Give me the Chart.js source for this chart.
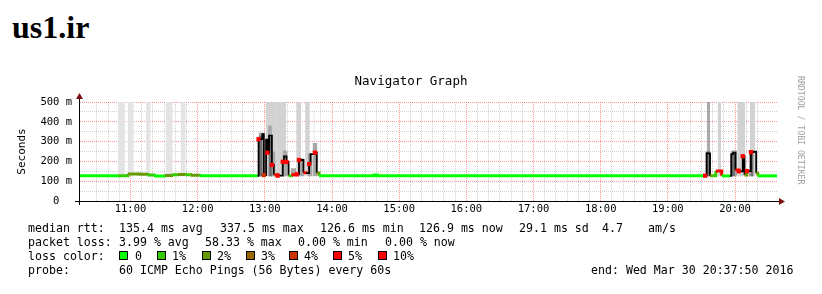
<!DOCTYPE html>
<html>
<head>
<meta charset="utf-8">
<script src="https://cdn.jsdelivr.net/npm/chart.js@4.4.1/dist/chart.umd.min.js"></script>
<style>
  body { margin: 0; background: #fff; }
  #page { position: relative; width: 822px; height: 294px; overflow: hidden; }
  #host { position: absolute; left: 12px; top: 11px; font: bold 32px/32px "Liberation Serif", serif; color: #000; }
  #chartBox { position: absolute; left: 0; top: 0; width: 822px; height: 230px; }
  #brand { position: absolute; left: 796px; top: 76px; writing-mode: vertical-rl; font: 8.2px "DejaVu Sans Mono", monospace; color: #a0a0a0; }
  .row { position: absolute; left: 0; width: 822px; height: 14px; font: 11.6px/14px "DejaVu Sans Mono", monospace; color: #000; white-space: pre; }
  .row span { position: absolute; top: 0; }
  .row i { position: absolute; top: 2px; width: 7px; height: 7px; border: 1px solid #000; }
</style>
</head>
<body>
<div id="page">
  <div id="host">us1.ir</div>
  <div id="chartBox"><canvas id="navGraph" width="822" height="230"></canvas></div>
  <div id="brand">RRDTOOL / TOBI OETIKER</div>

  <div class="row" style="top:221px">
    <span style="left:28px">median rtt:</span>
    <span style="left:119px">135.4 ms avg</span>
    <span style="left:220px">337.5 ms max</span>
    <span style="left:320px">126.6 ms min</span>
    <span style="left:419px">126.9 ms now</span>
    <span style="left:519px">29.1 ms sd</span>
    <span style="left:602px">4.7</span>
    <span style="left:648px">am/s</span>
  </div>
  <div class="row" style="top:235px">
    <span style="left:28px">packet loss:</span>
    <span style="left:119px">3.99 % avg</span>
    <span style="left:205px">58.33 % max</span>
    <span style="left:298px">0.00 % min</span>
    <span style="left:385px">0.00 % now</span>
  </div>
  <div class="row" style="top:249px">
    <span style="left:28px">loss color:</span>
    <i style="left:119px;background:#00ff00"></i><span style="left:135px">0</span>
    <i style="left:157px;background:#33cc00"></i><span style="left:172px">1%</span>
    <i style="left:202px;background:#669900"></i><span style="left:217px">2%</span>
    <i style="left:246px;background:#996600"></i><span style="left:261px">3%</span>
    <i style="left:289px;background:#cc3300"></i><span style="left:304px">4%</span>
    <i style="left:333px;background:#ff0000"></i><span style="left:348px">5%</span>
    <i style="left:378px;background:#ff0000"></i><span style="left:393px">10%</span>
  </div>
  <div class="row" style="top:263px">
    <span style="left:28px">probe:</span>
    <span style="left:119px">60 ICMP Echo Pings (56 Bytes) every 60s</span>
    <span style="left:591px">end: Wed Mar 30 20:37:50 2016</span>
  </div>
</div>

<script>
// time = minutes since midnight, median rtt in ms, loss in %
const times = [614, 649, 657.5, 668, 675, 681, 690.5, 696.7, 702, 709, 713.7, 721.7, 773.5,
  774.4, 777.7, 779.1, 781.1, 782.2, 783.8, 786.3, 788, 791.4, 796, 797.1, 799.4, 801.2, 803.8, 808.5,
  810.5, 814.5, 816.8, 819.6, 820.8, 824.8, 826.4, 828.4,
  877.8, 880.5,
  1173.3, 1174.6, 1177.7, 1179.9, 1182.8, 1188.1, 1195.5, 1196.6, 1198.3, 1200.4, 1203.4, 1206.9,
  1208.5, 1210.6, 1214.2, 1216.6, 1218.9, 1220.3, 1237.5];
const median = [127, 128, 136, 135, 131, 126, 129, 133, 134, 132, 130, 127, 127,
  312, 338, 131, 310, 244, 330, 182, 132, 128, 198, 225, 197, 127, 132, 135,
  207, 143, 141, 187, 237, 244, 141, 127,
  131, 127,
  128, 241, 128, 127, 151, 127, 127, 237, 244, 157, 150, 226,
  131, 151, 247, 249, 140, 127, 127];
const loss = [0, 1, 2, 2, 1, 0, 2, 1, 2, 1, 2, 0, 0,
  5, 0, 4, 0, 5, 0, 5, 4, 5, 5, 0, 5, 1, 5, 5,
  5, 5, 0, 5, 0, 5, 2, 0,
  0, 0,
  5, 0, 2, 1, 5, 0, 0, 0, 0, 5, 5, 5,
  2, 5, 5, 0, 2, 0, 0];

// smoke bands: [start, end, top ms]
const smokeCalm = [[648.7, 655, 500], [657.5, 662.9, 500], [673.6, 678, 500], [691.4, 697.7, 500], [704.8, 709.3, 500]];
const smokeLight = [[780.6, 790.7, 500], [790.7, 799.1, 500], [808, 812.5, 500], [816, 819.9, 500], [823.5, 824.4, 460],
  [1184.4, 1187.7, 500], [1202, 1209.1, 500], [1213.3, 1218.1, 500]];
const smokeMid = [[774.4, 779.7, 345], [782.7, 786.3, 380], [786.3, 789.5, 250], [795.8, 800.3, 255], [803, 808, 165],
  [811, 815.4, 215], [818.2, 822.6, 240], [822.6, 827, 293],
  [1175, 1177.7, 500], [1196.6, 1202, 255], [1212.5, 1216, 255]];
const smokeDark = [[774.4, 777.7, 330], [783.8, 786.3, 320], [1173.8, 1177.7, 250], [1196.6, 1200, 245], [1213.8, 1216.6, 250]];

const lossLevels = [0, 1, 2, 3, 4, 5, 10];
const lossColors = ['#00ff00', '#33cc00', '#669900', '#996600', '#cc3300', '#ff0000', '#ff0000'];

const hourTicks = [660, 720, 780, 840, 900, 960, 1020, 1080, 1140, 1200];
const hourLabels = ['11:00', '12:00', '13:00', '14:00', '15:00', '16:00', '17:00', '18:00', '19:00', '20:00'];
const yTicks = [0, 100, 200, 300, 400, 500];
const yLabels = ['0  ', '100 m', '200 m', '300 m', '400 m', '500 m'];

const MONO = '"DejaVu Sans Mono", monospace';
const SPIKE = 165;

function lossColor(p) {
  let c = lossColors[0];
  lossLevels.forEach((l, k) => { if (p >= l) c = lossColors[k]; });
  return c;
}
function thin(i) {
  return median[i] >= SPIKE || median[i + 1] >= SPIKE;
}
function bandPoints(bands) {
  const pts = [];
  bands.forEach(([s, e, top]) => {
    pts.push({x: s, y: top}, {x: e, y: top}, {x: e, y: null});
  });
  return pts;
}
function smokeSet(bands, color) {
  return {
    data: bandPoints(bands),
    backgroundColor: color,
    borderColor: 'transparent',
    borderWidth: 0,
    pointRadius: 0,
    fill: {value: 125}
  };
}

const markIdx = times.map((t, i) => i).filter(i => i < times.length - 1 && thin(i) && loss[i] >= 1);

const axisArrows = {
  id: 'axisArrows',
  afterDraw(chart) {
    const {ctx, chartArea: a} = chart;
    const x0 = Math.round(a.left) + 0.5, y0 = Math.round(a.bottom) + 0.5;
    ctx.save();
    ctx.strokeStyle = '#000';
    ctx.lineWidth = 1;
    ctx.beginPath();
    ctx.moveTo(x0, a.bottom + 4);
    ctx.lineTo(x0, a.top - 4);
    ctx.moveTo(a.left - 4, y0);
    ctx.lineTo(a.right + 4, y0);
    ctx.stroke();
    ctx.fillStyle = '#801010';
    ctx.beginPath();
    ctx.moveTo(x0, a.top - 9);
    ctx.lineTo(x0 - 3.5, a.top - 3);
    ctx.lineTo(x0 + 3.5, a.top - 3);
    ctx.closePath();
    ctx.fill();
    ctx.beginPath();
    ctx.moveTo(a.right + 8, y0);
    ctx.lineTo(a.right + 2, y0 - 3.5);
    ctx.lineTo(a.right + 2, y0 + 3.5);
    ctx.closePath();
    ctx.fill();
    ctx.restore();
  }
};

const gridDots = {color: '#000', width: 1, dash: [1, 1]};

new Chart(document.getElementById('navGraph'), {
  type: 'line',
  data: {
    datasets: [
      {
        data: markIdx.map(i => ({x: times[i], y: median[i]})),
        showLine: false,
        pointStyle: 'rect',
        pointRadius: 3,
        pointBorderWidth: 0,
        pointBackgroundColor: markIdx.map(i => lossColor(loss[i]))
      },
      {
        data: times.map((t, i) => ({x: t, y: median[i]})),
        stepped: true,
        borderColor: lossColors[0],
        borderWidth: 3,
        pointRadius: 0,
        fill: false,
        segment: {
          borderColor: c => thin(c.p0DataIndex) ? '#000' : lossColor(loss[c.p0DataIndex]),
          borderWidth: c => thin(c.p0DataIndex) ? 1.8 : 3
        }
      },
      smokeSet(smokeDark, '#707070'),
      smokeSet(smokeMid, '#a8a8a8'),
      smokeSet(smokeLight, '#d2d2d2'),
      smokeSet(smokeCalm, '#e4e4e4')
    ]
  },
  options: {
    responsive: false,
    animation: false,
    devicePixelRatio: 1,
    layout: {padding: 0},
    plugins: {
      legend: {display: false},
      tooltip: {enabled: false},
      title: {
        display: true,
        text: 'Navigator Graph',
        color: '#000',
        font: {family: MONO, size: 12.5, weight: 'normal'},
        padding: {top: 74.5, bottom: 12.5}
      }
    },
    scales: {
      x: {
        type: 'linear',
        position: 'bottom',
        min: 614,
        max: 1237.5,
        ticks: {
          stepSize: 10,
          autoSkip: false,
          maxRotation: 0,
          padding: 2,
          color: '#000',
          font: {family: MONO, size: 10.5},
          callback: v => {
            const k = hourTicks.indexOf(v);
            return k < 0 ? '' : hourLabels[k];
          }
        },
        grid: {
          drawTicks: false,
          lineWidth: 1,
          color: c => c.tick.value % 60 === 0 ? 'rgba(255,0,0,0.4)' : (c.tick.value % 10 === 0 ? 'rgba(130,130,130,0.38)' : 'transparent')
        },
        border: gridDots,
        afterFit: s => { s.height = 29; }
      },
      y: {
        type: 'linear',
        position: 'left',
        min: 0,
        max: 500,
        ticks: {
          stepSize: 50,
          autoSkip: false,
          padding: 7,
          color: '#000',
          font: {family: MONO, size: 10.5},
          callback: v => {
            const k = yTicks.indexOf(v);
            return k < 0 ? '' : yLabels[k];
          }
        },
        grid: {
          drawTicks: false,
          lineWidth: 1,
          color: c => c.tick.value % 100 === 0 ? 'rgba(255,0,0,0.4)' : 'rgba(130,130,130,0.38)'
        },
        border: gridDots,
        title: {
          display: true,
          text: 'Seconds',
          color: '#000',
          font: {family: MONO, size: 11},
          padding: {top: 16, bottom: 0}
        },
        afterFit: s => { s.width = 79; }
      },
      y2: {
        type: 'linear',
        position: 'right',
        grid: {display: false},
        border: {display: false},
        ticks: {display: false},
        afterFit: s => { s.width = 45; }
      }
    }
  },
  plugins: [axisArrows]
});
</script>
</body>
</html>
